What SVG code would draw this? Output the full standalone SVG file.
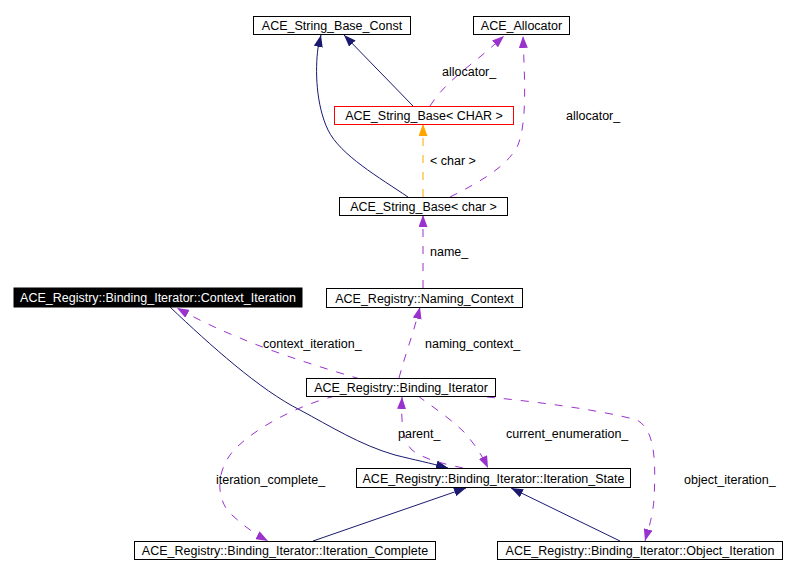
<svg xmlns="http://www.w3.org/2000/svg" width="797" height="574" viewBox="0 0 797 574">
<style>
  text { font-family: "Liberation Sans", Arial, Helvetica, sans-serif; font-size: 12.5px; fill: #000; }
  .node rect { fill: #fff; stroke: #000; stroke-width: 1; }
  .node text { text-anchor: middle; }
  .inh { fill: none; stroke: #191970; stroke-width: 1; marker-end: url(#aBlue); }
  .use { fill: none; stroke: #9a32cd; stroke-width: 1; stroke-dasharray: 8,9; marker-end: url(#aPurple); }
  .tpl { fill: none; stroke: #ffa500; stroke-width: 1; stroke-dasharray: 8,9; marker-end: url(#aOrange); }
</style>
<defs>
  <marker id="aBlue" markerUnits="userSpaceOnUse" markerWidth="12" markerHeight="9" viewBox="0 0 12 9" refX="12" refY="4.5" orient="auto">
    <path d="M0,0 L12,4.5 L0,9 z" fill="#191970"/>
  </marker>
  <marker id="aPurple" markerUnits="userSpaceOnUse" markerWidth="12" markerHeight="9" viewBox="0 0 12 9" refX="12" refY="4.5" orient="auto">
    <path d="M0,0 L12,4.5 L0,9 z" fill="#9a32cd"/>
  </marker>
  <marker id="aOrange" markerUnits="userSpaceOnUse" markerWidth="12" markerHeight="9" viewBox="0 0 12 9" refX="12" refY="4.5" orient="auto">
    <path d="M0,0 L12,4.5 L0,9 z" fill="#ffa500"/>
  </marker>
</defs>
<rect width="797" height="574" fill="#fff"/>

<g id="connectors">
  <path class="inh" d="M408,197 C380,178 340,155 328,130 C316,105 315,70 318,48 L321,35"/>
  <path class="inh" d="M413,106 L344,35"/>
  <path class="use" d="M430,106 C440,90 455,77 470,65 C485,53 495,44 504,36"/>
  <path class="use" d="M450,197 C480,182 508,166 518,145 C528,120 524,70 523,36"/>
  <path class="tpl" d="M423,197 L423,124"/>
  <path class="use" d="M423,288 L423,215"/>
  <path class="use" d="M399,378 C405,355 413,335 420,307"/>
  <path class="use" d="M360,379 C330,370 280,355 240,338 C215,328 195,318 177,308"/>
  <path class="inh" d="M170,307 C210,345 260,390 300,410 C330,426 360,445 395,455 C415,460 430,463 448,468"/>
  <path class="use" d="M335,396 C300,405 260,425 237,447 C215,468 215,500 232,515 C245,527 255,534 268,541"/>
  <path class="use" d="M463,468 C445,464 425,460 412,450 C402,440 401,420 402,397"/>
  <path class="use" d="M418,396 C430,405 450,418 465,433 C475,445 482,455 488,468"/>
  <path class="use" d="M487,397 C540,402 600,410 637,420 C655,430 656,460 654,500 C652,520 648,530 645,541"/>
  <path class="inh" d="M313,541 L466,488"/>
  <path class="inh" d="M620,541 L511,488"/>
  <text x="442" y="76">allocator_</text>
  <text x="566" y="120">allocator_</text>
  <text x="430" y="165">&lt; char &gt;</text>
  <text x="430" y="256">name_</text>
  <text x="263" y="348">context_iteration_</text>
  <text x="425" y="348">naming_context_</text>
  <text x="398" y="438">parent_</text>
  <text x="506" y="438">current_enumeration_</text>
  <text x="216" y="484">iteration_complete_</text>
  <text x="684" y="484">object_iteration_</text>
</g>

<g id="n1" class="node"><rect x="253.5" y="16.5" width="157" height="18"/><text x="332" y="30">ACE_String_Base_Const</text></g>
<g id="n2" class="node"><rect x="473.5" y="16.5" width="96" height="18"/><text x="521.5" y="30">ACE_Allocator</text></g>
<g id="n3" class="node"><rect x="334.5" y="106.5" width="179" height="18" style="stroke:#ff0000"/><text x="424" y="120">ACE_String_Base&lt; CHAR &gt;</text></g>
<g id="n4" class="node"><rect x="339.5" y="197.5" width="168" height="18"/><text x="423.5" y="211">ACE_String_Base&lt; char &gt;</text></g>
<g id="n5" class="node"><rect x="14" y="288" width="288" height="19" style="fill:#000;stroke:#000"/><text x="158" y="302" style="fill:#fff">ACE_Registry::Binding_Iterator::Context_Iteration</text></g>
<g id="n6" class="node"><rect x="326.5" y="288.5" width="196" height="19"/><text x="424.5" y="302.5">ACE_Registry::Naming_Context</text></g>
<g id="n7" class="node"><rect x="306.5" y="378.5" width="189" height="18"/><text x="401" y="392">ACE_Registry::Binding_Iterator</text></g>
<g id="n8" class="node"><rect x="356.5" y="468.5" width="274" height="19"/><text x="493.5" y="482.5">ACE_Registry::Binding_Iterator::Iteration_State</text></g>
<g id="n9" class="node"><rect x="134.5" y="541.5" width="301" height="18"/><text x="285" y="555">ACE_Registry::Binding_Iterator::Iteration_Complete</text></g>
<g id="n10" class="node"><rect x="497.5" y="541.5" width="285" height="18"/><text x="640" y="555">ACE_Registry::Binding_Iterator::Object_Iteration</text></g>
</svg>
